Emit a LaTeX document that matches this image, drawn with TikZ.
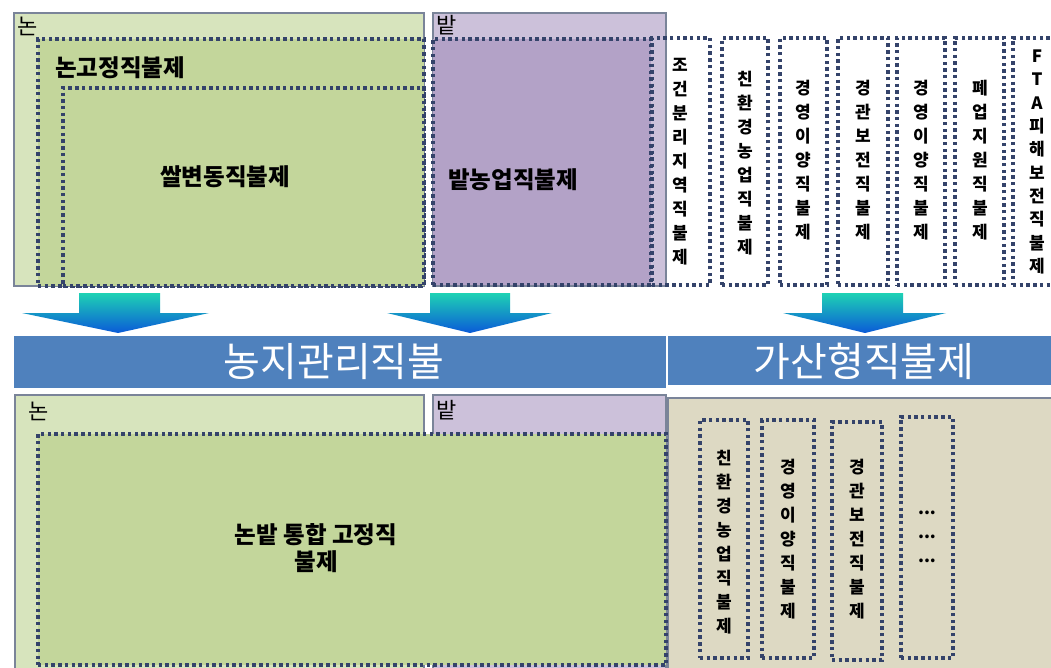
\documentclass[tikz,border=0pt]{standalone}
\usepackage{fontspec}
\newfontfamily\kr{Noto Sans CJK KR}
\usetikzlibrary{fit}
\definecolor{lgreen}{HTML}{D7E4BD}
\definecolor{mgreen}{HTML}{C3D69B}
\definecolor{lpurple}{HTML}{CCC1DA}
\definecolor{mpurple}{HTML}{B3A2C7}
\definecolor{barblue}{HTML}{4F81BD}
\definecolor{tan}{HTML}{DDD9C3}
\definecolor{boxline}{HTML}{7A8499}
\definecolor{dotline}{HTML}{34436A}
\definecolor{arrtop}{HTML}{1ED2B4}
\definecolor{arrbot}{HTML}{0A5AD8}
\begin{document}
\begin{tikzpicture}[x=1pt,y=-1pt,
  solidbox/.style={draw=boxline, line width=1.2pt, inner sep=0pt, outer sep=0pt},
  dotbox/.style={draw=dotline, line width=3.6pt, dash pattern=on 3.4pt off 3.3pt, inner sep=0pt, outer sep=0pt},
  bar/.style={fill=barblue, inner sep=0pt, outer sep=0pt},
  arealab/.style={font=\kr\fontsize{22}{24}\selectfont, inner sep=0pt},
  mainlab/.style={font=\kr\bfseries\fontsize{23.5}{27}\selectfont, inner sep=0pt, align=center},
  vlab/.style={font=\kr\bfseries\fontsize{17}{24}\selectfont, inner sep=0pt, align=center},
  barlab/.style={font=\kr\fontsize{40}{44}\selectfont, text=white, inner sep=0pt},
  blockarrow/.style={top color=arrtop, bottom color=arrbot}
]
\useasboundingbox (0,0) rectangle (1051,668);
\fill[white] (0,0) rectangle (1051,668);

% ---------- top section ----------
\node[solidbox, fill=lgreen, fit={(14,13) (424,286)}] (non) {};
\node[solidbox, fill=lpurple, fit={(433,13) (666,286)}] (bat) {};
\node[arealab, anchor=west] (nonlab) at (17,26) {논};
\node[arealab, anchor=west] (batlab) at (436,25) {밭};

\node[dotbox, fill=mgreen, fit={(38,39) (424,286)}] (nongo) {};
\node[dotbox, fill=mgreen, fit={(63,88) (424,286)}] (ssal) {};
\node[dotbox, fill=mpurple, fit={(433,39) (651,285)}] (batup) {};
\node[mainlab, anchor=west] (nongolab) at (55,68) {논고정직불제};
\node[mainlab] (ssallab) at (225,177) {쌀변동직불제};
\node[mainlab] (batuplab) at (513,180) {밭농업직불제};

% vertical boxes
\node[dotbox, fit={(652,38) (710,285)}] (v1) {};
\node[dotbox, fit={(722,38) (768,285)}] (v2) {};
\node[dotbox, fit={(780,38) (827,285)}] (v3) {};
\node[dotbox, fit={(838,38) (888,285)}] (v4) {};
\node[dotbox, fit={(897,38) (945,285)}] (v5) {};
\node[dotbox, fit={(955,38) (1004,285)}] (v6) {};
\node[dotbox, fit={(1013,38) (1062,285)}] (v7) {};
\node[vlab] (v1t) at (680,162) {조\\건\\분\\리\\지\\역\\직\\불\\제};
\node[vlab] (v2t) at (745,163) {친\\환\\경\\농\\업\\직\\불\\제};
\node[vlab] (v3t) at (803,160) {경\\영\\이\\양\\직\\불\\제};
\node[vlab] (v4t) at (863,160) {경\\관\\보\\전\\직\\불\\제};
\node[vlab] (v5t) at (921,160) {경\\영\\이\\양\\직\\불\\제};
\node[vlab] (v6t) at (980,160) {폐\\업\\지\\원\\직\\불\\제};
\node[vlab, font=\kr\bfseries\fontsize{17}{23.3}\selectfont] (v7t) at (1037,162) {F\\T\\A\\피\\해\\보\\전\\직\\불\\제};

% ---------- arrows ----------
\shade[blockarrow] (79,293) -- (160,293) -- (160,313) -- (209,313) -- (118,333) -- (22,313) -- (79,313) -- cycle;
\shade[blockarrow] (430,293) -- (510,293) -- (510,313) -- (552,313) -- (470,333) -- (387,313) -- (430,313) -- cycle;
\shade[blockarrow] (822,293) -- (903,293) -- (903,313) -- (946,313) -- (865,333) -- (783,313) -- (822,313) -- cycle;

% ---------- bars ----------
\node[bar, fit={(14,336) (666,388)}] (bar1) {};
\node[bar, fit={(668,336) (1051,385)}] (bar2) {};
\node[barlab] (bar1lab) at (334,362) {농지관리직불};
\node[barlab] (bar2lab) at (864,361) {가산형직불제};

% ---------- bottom section ----------
\node[solidbox, fill=lgreen, fit={(15,395) (424,672)}] (non2) {};
\node[solidbox, fill=lpurple, fit={(433,395) (666,672)}] (bat2) {};
\node[solidbox, fill=tan, fit={(668,398) (1056,672)}] (add) {};
\node[arealab, anchor=west] (non2lab) at (28,411) {논};
\node[arealab, anchor=west] (bat2lab) at (436,410) {밭};
\node[dotbox, fill=mgreen, fit={(38,434) (666,665)}] (integ) {};
\node[mainlab] (integlab) at (316,548) {논밭 통합 고정직\\불제};

\node[dotbox, fit={(700,420) (748,658)}] (b1) {};
\node[dotbox, fit={(762,420) (814,658)}] (b2) {};
\node[dotbox, fit={(832,422) (882,660)}] (b3) {};
\node[dotbox, fit={(901,417) (953,658)}] (b4) {};
\node[vlab] (b1t) at (724,542) {친\\환\\경\\농\\업\\직\\불\\제};
\node[vlab] (b2t) at (788,539) {경\\영\\이\\양\\직\\불\\제};
\node[vlab] (b3t) at (857,539) {경\\관\\보\\전\\직\\불\\제};
\node[vlab] (b4t) at (927,537) {...\\...\\...};
\end{tikzpicture}
\end{document}
